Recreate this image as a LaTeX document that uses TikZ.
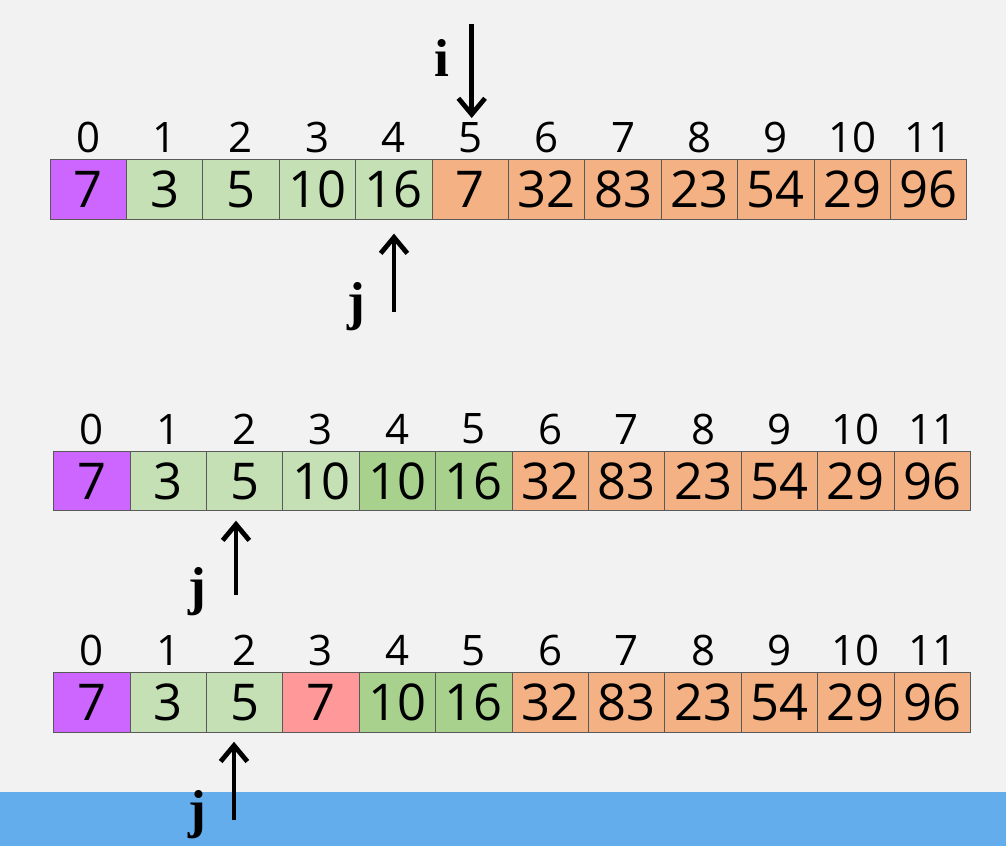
\documentclass[tikz,border=0pt]{standalone}
\usepackage{xcolor}
\usepackage{fontspec}
\usepackage{tikz}
\usetikzlibrary{arrows.meta, positioning}

\newfontfamily\cellfamily{Open Sans}
\newfontfamily\ptrfamily{Liberation Serif}

\definecolor{bgc}{HTML}{F2F2F2}
\definecolor{bandc}{HTML}{63ADEC}
\definecolor{purp}{HTML}{CC66FF}
\definecolor{lgreen}{HTML}{C5E0B4}
\definecolor{mgreen}{HTML}{A9D18E}
\definecolor{orng}{HTML}{F4B183}
\definecolor{pinkc}{HTML}{FF9999}

\begin{document}
\begin{tikzpicture}[x=0.75pt, y=-0.75pt, node distance=57.3pt, on grid,
    cell/.style={draw=black!65, line width=0.7pt, minimum width=57.3pt,
        minimum height=44.5pt, inner sep=0pt,
        font=\cellfamily\fontsize{38}{40}\selectfont},
    idx/.style={inner sep=0pt, font=\cellfamily\fontsize{31.5}{34}\selectfont},
    ptr/.style={line width=3.6pt, -{Straight Barb[length=12pt, width=20pt]}},
    ptrlabel/.style={inner sep=0pt, font=\ptrfamily\bfseries\fontsize{40}{42}\selectfont}]

    % background and bottom band
    \useasboundingbox[fill=bgc] (0,0) rectangle (1006,846);
    \fill[bandc] (0,791.7) rectangle (1006,846);

    % first row
    \node[cell, fill=purp] (a0) at (88.2,189.5) {7};
    \foreach \v/\c [count=\k, remember=\k as \p (initially 0)] in
        {3/lgreen, 5/lgreen, 10/lgreen, 16/lgreen, 7/orng, 32/orng,
         83/orng, 23/orng, 54/orng, 29/orng, 96/orng}
        \node[cell, fill=\c] (a\k) [right=of a\p] {\v};

    % second row
    \node[cell, fill=purp] (b0) at (91.8,481.2) {7};
    \foreach \v/\c [count=\k, remember=\k as \p (initially 0)] in
        {3/lgreen, 5/lgreen, 10/lgreen, 10/mgreen, 16/mgreen, 32/orng,
         83/orng, 23/orng, 54/orng, 29/orng, 96/orng}
        \node[cell, fill=\c] (b\k) [right=of b\p] {\v};

    % third row
    \node[cell, fill=purp] (c0) at (91.8,702.3) {7};
    \foreach \v/\c [count=\k, remember=\k as \p (initially 0)] in
        {3/lgreen, 5/lgreen, 7/pinkc, 10/mgreen, 16/mgreen, 32/orng,
         83/orng, 23/orng, 54/orng, 29/orng, 96/orng}
        \node[cell, fill=\c] (c\k) [right=of c\p] {\v};

    % indices
    \foreach \k in {0,...,11} {
        \node[idx] (ia\k) [above=39pt of a\k] {\k};
        \node[idx] (ib\k) [above=39pt of b\k] {\k};
        \node[idx] (ic\k) [above=39pt of c\k] {\k};
    }

    % pointers
    \coordinate (itail) at (471.7,24);
    \coordinate (ja) at (394,312);
    \coordinate (jb) at (236,595);
    \coordinate (jc) at (234,820);

    \node[ptrlabel] (il) at (441.7,58) {i};
    \node[ptrlabel] (jla) at (356,307) {j};
    \node[ptrlabel] (jlb) at (197,592) {j};
    \node[ptrlabel] (jlc) at (197,815) {j};

    \draw[ptr, shorten >=3pt] (itail) -- (itail |- ia5.north);
    \draw[ptr, shorten >=10.5pt] (ja) -- (ja |- a4.south);
    \draw[ptr, shorten >=7pt] (jb) -- (jb |- b2.south);
    \draw[ptr, shorten >=7pt] (jc) -- (jc |- c2.south);

\end{tikzpicture}
\end{document}
